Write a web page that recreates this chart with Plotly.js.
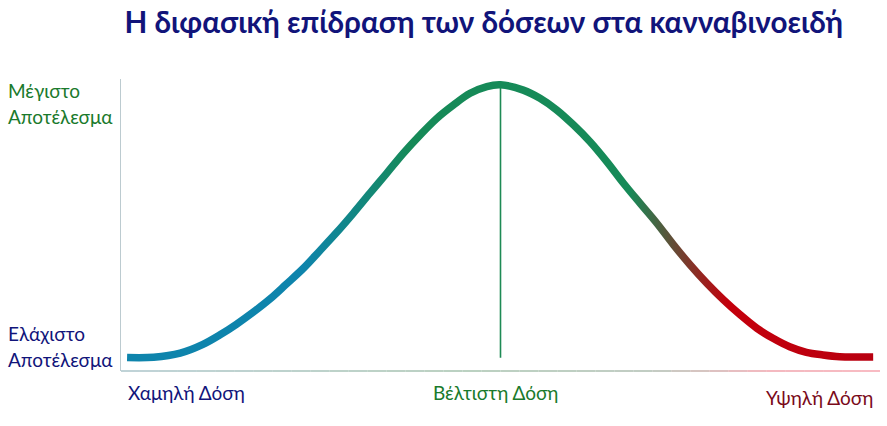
<!DOCTYPE html>
<html>
<head>
<meta charset="utf-8">
<script src="https://cdn.plot.ly/plotly-3.0.1.min.js"></script>
<style>
  body { margin: 0; background: #fff; }
  #chart { width: 887px; height: 426px; }
</style>
</head>
<body>
<div id="chart"></div>
<script>
// curve: dose (0-100) vs effect (0-100)
const doseX = [0.8, 4.3, 7.8, 10.8, 13.0, 15.2, 17.4, 19.6, 21.8, 24.0, 26.2, 28.4, 30.6, 32.8, 35.0, 37.2, 39.4, 41.6, 43.8, 46.0, 48.2, 50.0,
               53.0, 55.2, 57.4, 59.6, 61.8, 64.0, 66.2, 68.4, 70.6, 72.8, 75.0, 77.2, 79.4, 81.6, 83.8, 85.9, 88.1, 90.3, 92.5, 94.7, 96.9, 99.1];
const effectY = [4.6, 4.7, 6.1, 9.1, 12.3, 16.0, 20.1, 24.6, 29.8, 35.1, 41.2, 47.4, 54.0, 60.9, 67.7, 74.6, 80.8, 86.5, 91.1, 95.1, 97.4, 98.0,
                 96.2, 93.4, 89.4, 84.3, 78.5, 71.7, 64.3, 57.4, 50.6, 43.2, 36.3, 30.0, 24.3, 19.2, 14.6, 11.2, 8.3, 6.4, 5.5, 4.9, 4.8, 4.8];

const optimalDose = 50;
const optimalRange = [4.5, 98];

const titleText = "Η διφασική επίδραση των δόσεων στα κανναβινοειδή";
const maxLabel = ["Μέγιστο", "Αποτέλεσμα"];
const minLabel = ["Ελάχιστο", "Αποτέλεσμα"];
const doseLabels = ["Χαμηλή Δόση", "Βέλτιστη Δόση", "Υψηλή Δόση"];

const FONT = "Lato, 'Noto Sans', 'Open Sans', sans-serif";
const NAVY = "#11147a";
const GREEN = "#1a7a2c";
const DARKRED = "#7a0a1a";

// colour stops of the curve, placed along the dose axis
const curveStops = [
    [24, "rgb(14,132,172)"],
    [38, "rgb(22,138,88)"],
    [67, "rgb(22,138,88)"],
    [80, "rgb(196,0,12)"],
    [100, "rgb(184,0,16)"]
];

const traces = [
    {
        x: [optimalDose, optimalDose],
        y: optimalRange,
        mode: "lines",
        line: {color: "#1e8a55", width: 1.6},
        hoverinfo: "skip"
    },
    {
        x: doseX,
        y: effectY,
        mode: "lines",
        line: {color: "rgb(22,138,88)", width: 7.5, shape: "spline"},
        hoverinfo: "skip"
    }
];

// bottom axis line with its colour fade
const axisStops = [
    [0, [176, 200, 206]],
    [45, [170, 198, 178]],
    [70, [178, 192, 180]],
    [85, [240, 168, 176]],
    [100, [246, 170, 180]]
];
const axisColor = (x) => {
    for (let i = 1; i < axisStops.length; i++) {
        if (x <= axisStops[i][0]) {
            const [x0, c0] = axisStops[i - 1];
            const [x1, c1] = axisStops[i];
            const t = (x - x0) / (x1 - x0);
            return `rgb(${c0.map((v, k) => Math.round(v + (c1[k] - v) * t)).join(",")})`;
        }
    }
};
let shapes = [];
for (let s = 0; s < 40; s++) {
    shapes.push({
        type: "line", xref: "paper", yref: "paper",
        x0: s / 40, x1: (s + 1) / 40, y0: 0, y1: 0,
        line: {color: axisColor((s + 0.5) * 2.5), width: 1.6}
    });
}

const ann = (text, x, y, color, xanchor, size) => ({
    text: text, xref: "paper", yref: "paper", x: x, y: y,
    xanchor: xanchor, yanchor: "middle", showarrow: false,
    font: {family: FONT, size: size || 19, color: color}
});

const annotations = [
    ann(maxLabel[0], -0.152, 0.959, GREEN, "left"),
    ann(maxLabel[1], -0.152, 0.873, GREEN, "left"),
    ann(minLabel[0], -0.152, 0.127, NAVY, "left"),
    ann(minLabel[1], -0.152, 0.038, NAVY, "left"),
    ann(doseLabels[0], 0.007, -0.075, NAVY, "left"),
    ann(doseLabels[1], 0.493, -0.075, GREEN, "center"),
    ann(doseLabels[2], 0.9934, -0.092, DARKRED, "right")
];

const layout = {
    width: 887,
    height: 426,
    margin: {l: 121, r: 7, t: 79, b: 55},
    paper_bgcolor: "#fff",
    plot_bgcolor: "#fff",
    showlegend: false,
    title: {
        text: "<b>" + titleText + "</b>",
        xref: "paper", x: 0.478, xanchor: "center",
        yref: "container", y: 0.948, yanchor: "middle",
        font: {family: FONT, size: 29.6, color: NAVY}
    },
    xaxis: {range: [0, 100], showgrid: false, zeroline: false, showticklabels: false, ticks: "", showline: false, fixedrange: true},
    yaxis: {range: [0, 100], showgrid: false, zeroline: false, showticklabels: false, ticks: "",
            showline: true, linecolor: "#bccbd0", linewidth: 1.5, fixedrange: true},
    shapes: shapes,
    annotations: annotations
};

// plotly lines take one colour only, so the stroke gets an svg gradient afterwards
const addCurveGradient = () => {
    const svg = document.querySelector("#chart .main-svg");
    const ns = "http://www.w3.org/2000/svg";
    let defs = svg.querySelector("defs");
    if (!defs) {
        defs = document.createElementNS(ns, "defs");
        svg.insertBefore(defs, svg.firstChild);
    }
    const grad = document.createElementNS(ns, "linearGradient");
    grad.setAttribute("id", "doseGradient");
    grad.setAttribute("x1", "0");
    grad.setAttribute("x2", "1");
    grad.setAttribute("y1", "0");
    grad.setAttribute("y2", "0");
    const xMin = doseX[0];
    const xMax = doseX[doseX.length - 1];
    for (let [x, c] of curveStops) {
        const stop = document.createElementNS(ns, "stop");
        stop.setAttribute("offset", Math.min(1, Math.max(0, (x - xMin) / (xMax - xMin))));
        stop.setAttribute("stop-color", c);
        grad.appendChild(stop);
    }
    defs.appendChild(grad);
    const curve = document.querySelectorAll("#chart .scatterlayer .trace")[1].querySelector("path.js-line");
    curve.style.stroke = "url(#doseGradient)";
};

Plotly.newPlot("chart", traces, layout, {displayModeBar: false, staticPlot: true}).then(addCurveGradient);
</script>
</body>
</html>
